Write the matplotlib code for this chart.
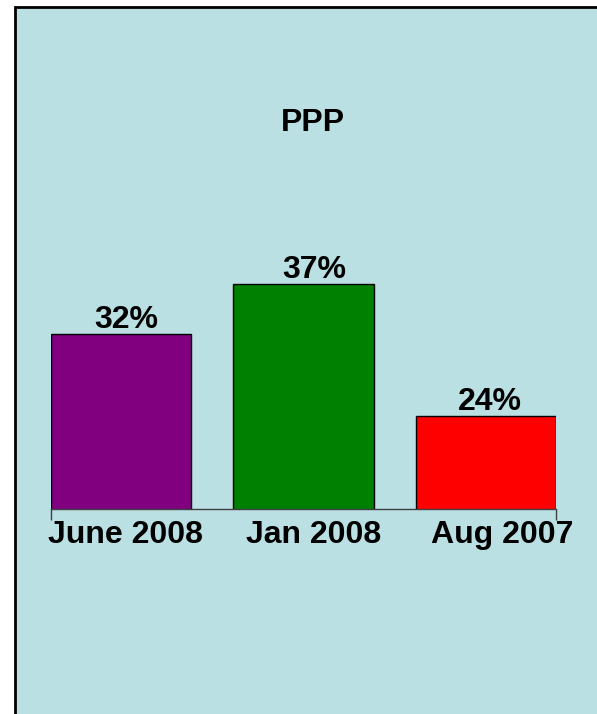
import matplotlib
matplotlib.use('Agg')
import matplotlib.pyplot as plt
from matplotlib.patches import Rectangle

# data
categories = ['June 2008', 'Jan 2008', 'Aug 2007']
values = [32, 37, 24]
value_labels = ['32%', '37%', '24%']
bar_colors = ['#800080', '#008000', '#FF0000']
title = 'PPP'

plt.rcParams['font.family'] = ['Liberation Sans', 'DejaVu Sans']
plt.rcParams['font.weight'] = 'bold'

W, H = 597, 714
fig = plt.figure(figsize=(W / 100, H / 100), dpi=100, facecolor='white')

# slide-like frame, cut off at right and bottom
frame = Rectangle((15 / W, -0.1), 1.2, 1 - 7 / H + 0.1, transform=fig.transFigure,
                  facecolor='#BBE0E3', edgecolor='black', linewidth=2, zorder=-10)
fig.patches.append(frame)

fig.text(312.5 / W, 1 - 131 / H, title, ha='center', va='baseline',
         fontsize=23, fontweight='bold')

ax = fig.add_axes([51 / W, 1 - 509 / H, 505 / W, 309 / H])
ax.set_facecolor('none')
ax.set_zorder(5)

x = list(range(len(values)))
ax.bar(x, values, width=0.77, color=bar_colors, edgecolor='black', linewidth=1)
ax.set_xlim(-0.385, len(values) - 1 + 0.385)
ax.set_ylim(14.8, 45.25)

# value labels above bars (small horizontal shifts as in the original)
val_shift = [5, 11, 4]
for i, v in enumerate(values):
    ax.annotate(value_labels[i], xy=(i, v), xytext=(val_shift[i], 6),
                textcoords='offset pixels', ha='center', va='baseline',
                fontsize=23, fontweight='bold')

# category labels under the axis
cat_shift = [4, 10, 16]
for i, c in enumerate(categories):
    ax.annotate(c, xy=(i, 0), xycoords=('data', 'axes fraction'),
                xytext=(cat_shift[i], -34), textcoords='offset pixels',
                ha='center', va='baseline', fontsize=23, fontweight='bold',
                annotation_clip=False)

for s in ['left', 'top', 'right']:
    ax.spines[s].set_visible(False)
ax.spines['bottom'].set_color('#404040')
ax.spines['bottom'].set_linewidth(1)
ax.set_yticks([])
ax.set_xticks([])
ax.set_xticks([-0.385, len(values) - 1 + 0.385], minor=True)
ax.tick_params(axis='x', which='minor', length=8, color='#404040', width=1,
               labelbottom=False)

fig.savefig('out.png', dpi=100)
